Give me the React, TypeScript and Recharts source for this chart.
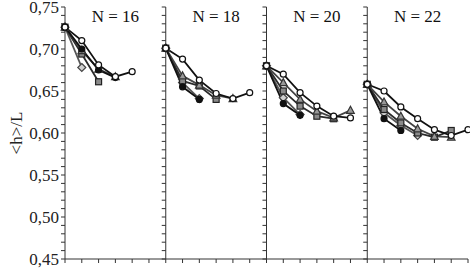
import {
  LineChart,
  Line,
  XAxis,
  YAxis,
  ReferenceLine,
  ReferenceDot,
} from 'recharts';

// one panel per N, each panel spans 6 x-units
const panelTitles = ['N = 16', 'N = 18', 'N = 20', 'N = 22'];

const openCircle = [
  [0.726, 0.71, 0.681, 0.667, 0.673],
  [0.701, 0.688, 0.663, 0.647, 0.641, 0.648],
  [0.68, 0.67, 0.648, 0.632, 0.62, 0.618],
  [0.658, 0.65, 0.631, 0.617, 0.604, 0.597, 0.604],
];
const grayTriangle = [
  [0.726, 0.698, 0.676, 0.667],
  [0.701, 0.668, 0.657, 0.645, 0.641],
  [0.68, 0.66, 0.64, 0.626, 0.618, 0.627],
  [0.658, 0.637, 0.62, 0.605, 0.596, 0.595],
];
const graySquare = [
  [0.726, 0.694, 0.661],
  [0.701, 0.662, 0.656, 0.64],
  [0.68, 0.65, 0.632, 0.62, 0.617],
  [0.658, 0.628, 0.612, 0.6, 0.595, 0.603],
];
const lightDiamond = [
  [0.726, 0.678],
  [0.701, 0.66, 0.641],
  [0.68, 0.642, 0.622],
  [0.658, 0.624, 0.609, 0.597],
];
const blackDot = [
  [0.726, 0.7, 0.675, 0.666],
  [0.701, 0.655, 0.64],
  [0.68, 0.635, 0.621],
  [0.658, 0.617, 0.603],
];

const yMajorLabels = ['0,45', '0,50', '0,55', '0,60', '0,65', '0,70', '0,75'];
const yTicks = Array.from({ length: 31 }, (_, i) => +(0.45 + i * 0.01).toFixed(2));
const xTicks = Array.from({ length: 25 }, (_, i) => i);
const dividers = [6, 12, 18];

const FONT = '"Liberation Serif", "Times New Roman", serif';

const toPoints = (vals: number[], panel: number) =>
  vals.map((v, i) => ({ x: panel * 6 + i, y: v }));

type Shape = 'circle' | 'triangle' | 'square' | 'diamond';

const makeDot = (shape: Shape, fill: string, stroke: string) => (props: any) => {
  const { cx, cy, index } = props;
  if (cx == null || cy == null) return <g key={index} />;
  if (shape === 'circle')
    return <circle key={index} cx={cx} cy={cy} r={3} fill={fill} stroke={stroke} strokeWidth={1.2} />;
  if (shape === 'square')
    return <rect key={index} x={cx - 3} y={cy - 3} width={6} height={6} fill={fill} stroke={stroke} strokeWidth={1.2} />;
  if (shape === 'diamond')
    return (
      <polygon key={index} points={`${cx},${cy - 4} ${cx + 4},${cy} ${cx},${cy + 4} ${cx - 4},${cy}`} fill={fill} stroke={stroke} strokeWidth={1.2} />
    );
  return (
    <polygon key={index} points={`${cx},${cy - 4} ${cx + 3.8},${cy + 3} ${cx - 3.8},${cy + 3}`} fill={fill} stroke={stroke} strokeWidth={1.2} />
  );
};

const seriesDefs = [
  { name: 'diamond', values: lightDiamond, stroke: '#555', dot: makeDot('diamond', '#d0d0d0', '#444') },
  { name: 'square', values: graySquare, stroke: '#2a2a2a', dot: makeDot('square', '#8a8a8a', '#222') },
  { name: 'triangle', values: grayTriangle, stroke: '#444', dot: makeDot('triangle', '#999', '#333') },
  { name: 'black', values: blackDot, stroke: '#111', dot: makeDot('circle', '#111', '#111') },
  { name: 'circle', values: openCircle, stroke: '#111', dot: makeDot('circle', '#fff', '#111') },
];

const yLabel = (v: number) => {
  const idx = Math.round((v - 0.45) / 0.05);
  return Math.abs(v - (0.45 + idx * 0.05)) < 1e-6 ? yMajorLabels[idx] : '';
};

export default function App() {
  return (
    <div style={{ position: 'absolute', left: 0, top: 0, background: '#fff' }}>
      <style>{`.recharts-wrapper text { font-family: ${FONT} !important; }`}</style>
      <LineChart
        width={470}
        height={269}
        margin={{ top: 7, right: 2, bottom: 0, left: 0 }}
      >
        <XAxis
          type="number"
          dataKey="x"
          domain={[0, 24]}
          ticks={xTicks}
          tickFormatter={() => ''}
          tickSize={4}
          height={10}
          stroke="#333"
          interval={0}
        />
        <YAxis
          type="number"
          domain={[0.45, 0.75]}
          ticks={yTicks}
          tickFormatter={yLabel}
          interval={0}
          width={65}
          tickSize={4}
          stroke="#333"
          tick={{ fill: '#222', fontSize: 17 }}
          label={{
            value: '<h>/L',
            angle: -90,
            position: 'insideLeft',
            offset: 16,
            style: { fill: '#222', fontSize: 17, textAnchor: 'middle' },
          }}
        />
        {dividers.map((d) => (
          <ReferenceLine key={`div-${d}`} x={d} stroke="#333" />
        ))}
        {dividers.map((d) =>
          yTicks.map((t) => (
            <ReferenceLine
              key={`dt-${d}-${t}`}
              segment={[
                { x: d - 0.24, y: t },
                { x: d, y: t },
              ]}
              stroke="#333"
            />
          ))
        )}
        {panelTitles.map((title, p) => (
          <ReferenceDot
            key={title}
            x={p * 6 + 3}
            y={0.739}
            r={0}
            fill="none"
            stroke="none"
            label={{ value: title, position: 'center', fill: '#111', fontSize: 17 }}
          />
        ))}
        {seriesDefs.map((s) =>
          s.values.map((vals, p) => (
            <Line
              key={`${s.name}-${p}`}
              data={toPoints(vals, p)}
              dataKey="y"
              type="linear"
              stroke={s.stroke}
              strokeWidth={1.8}
              dot={s.dot}
              activeDot={false}
              isAnimationActive={false}
            />
          ))
        )}
      </LineChart>
    </div>
  );
}
